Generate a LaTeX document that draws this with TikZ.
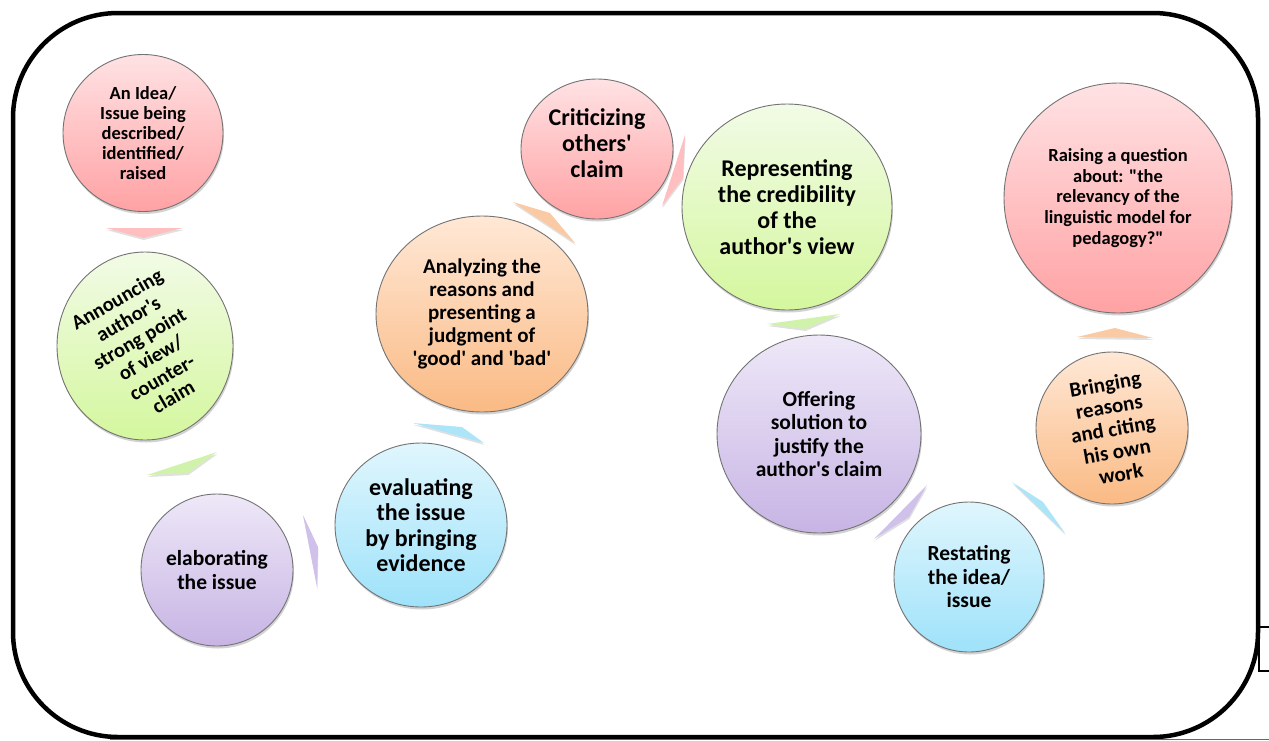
\documentclass[tikz,border=0pt]{standalone}
\usepackage{fontspec}
\setmainfont{Carlito}[Ligatures=TeXOff, BoldFont={Carlito Bold}]
\usetikzlibrary{shapes.geometric,shadows}
\definecolor{redT}{RGB}{255,226,228}
\definecolor{redB}{RGB}{255,162,164}
\definecolor{grnT}{RGB}{242,251,230}
\definecolor{grnB}{RGB}{212,247,158}
\definecolor{purT}{RGB}{238,232,248}
\definecolor{purB}{RGB}{199,180,228}
\definecolor{bluT}{RGB}{224,246,253}
\definecolor{bluB}{RGB}{158,226,250}
\definecolor{orgT}{RGB}{255,232,214}
\definecolor{orgB}{RGB}{250,186,132}
\definecolor{redC}{RGB}{255,190,192}
\definecolor{grnC}{RGB}{208,242,170}
\definecolor{purC}{RGB}{208,193,234}
\definecolor{bluC}{RGB}{172,228,248}
\definecolor{orgC}{RGB}{250,202,164}
\tikzset{
  bub/.style={ellipse, draw=black!55, line width=0.9pt, inner sep=0pt,
    drop shadow={shadow xshift=1pt, shadow yshift=-2.5pt, opacity=0.25, fill=black!70}},
  redb/.style={bub, top color=redT, bottom color=redB},
  grnb/.style={bub, top color=grnT, bottom color=grnB},
  purb/.style={bub, top color=purT, bottom color=purB},
  blub/.style={bub, top color=bluT, bottom color=bluB},
  orgb/.style={bub, top color=orgT, bottom color=orgB},
  lbl/.style={align=center, inner sep=0pt, text=black},
  conn/.style={draw=none, drop shadow={shadow xshift=0.5pt, shadow yshift=-2pt, opacity=0.2, fill=black!60}},
}
\newcommand{\fs}[2]{\bfseries\fontsize{#1}{#2}\selectfont}
\begin{document}
\begin{tikzpicture}[x=1pt,y=-1pt]
\useasboundingbox (0,0) rectangle (1269,740);
% frame
\draw[line width=4.5pt, rounded corners=105pt] (13,13) rectangle (1258,737);
\draw[black!60, line width=0.8pt] (110,739.4) -- (1269,739.4);
\draw[line width=1.4pt] (1269,627) -- (1259,627) -- (1259,671) -- (1269,671);
% bubbles
\node[redb, minimum width=160pt, minimum height=157pt] (b1) at (143,133) {};
\node[grnb, minimum width=176pt, minimum height=188pt] (b2) at (145,346) {};
\node[purb, minimum width=152pt, minimum height=152pt] (b3) at (217,570) {};
\node[blub, minimum width=172pt, minimum height=164pt] (b4) at (421,525) {};
\node[orgb, minimum width=212pt, minimum height=196pt] (b5) at (482,314) {};
\node[redb, minimum width=152pt, minimum height=140pt] (b6) at (597,149) {};
\node[grnb, minimum width=210pt, minimum height=206pt] (b7) at (787,207) {};
\node[purb, minimum width=204pt, minimum height=198pt] (b8) at (819,434) {};
\node[blub, minimum width=150pt, minimum height=150pt] (b9) at (969,577) {};
\node[orgb, minimum width=152pt, minimum height=152pt] (b10) at (1112,428) {};
\node[redb, minimum width=228pt, minimum height=230pt] (b11) at (1118,198) {};
% labels
\node[lbl, font=\fs{18.5}{20}] (t1) at (b1.center) {An Idea/\\Issue being\\described/\\identified/\\raised};
\node[lbl, font=\fs{20.5}{22.5}, rotate=30] (t2) at (145,348) {Announcing\\author's\\strong point\\of view/\\counter-\\claim};
\node[lbl, font=\fs{21.5}{24}] (t3) at (b3.center) {elaborating\\the issue};
\node[lbl, font=\fs{24}{25.5}] (t4) at (b4.center) {evaluating\\the issue\\by bringing\\evidence};
\node[lbl, font=\fs{21}{23}] (t5) at (b5.center) {Analyzing the\\reasons and\\presenting a\\judgment of\\'good' and 'bad'};
\node[lbl, font=\fs{24}{26}] (t6) at (597,143) {Criticizing\\others'\\claim};
\node[lbl, font=\fs{24}{26}] (t7) at (b7.center) {Representing\\the credibility\\of the\\author's view};
\node[lbl, font=\fs{21.5}{23.3}] (t8) at (b8.center) {Offering\\solution to\\justify the\\author's claim};
\node[lbl, font=\fs{21.5}{23.5}] (t9) at (b9.center) {Restating\\the idea/\\issue};
\node[lbl, font=\fs{21}{22.7}, rotate=10] (t10) at (1113,429) {Bringing\\reasons\\and citing\\his own\\work};
\node[lbl, font=\fs{18.5}{20.7}] (t11) at (b11.center) {Raising a question\\about: "the\\relevancy of the\\linguistic model for\\pedagogy?"};
% connectors
\fill[conn, redC] (106,228) -- (183,228) -- (143,238) -- cycle;
\fill[conn, grnC] (217,452) -- (188,473) -- (147,475) -- cycle;
\fill[conn, purC] (303,515) -- (318,547) -- (317,587) -- cycle;
\fill[conn, bluC] (413,423) -- (462,427) -- (484,443) -- cycle;
\fill[conn, orgC] (513,202) -- (550,213) -- (575,243) -- cycle;
\fill[conn, redC] (685,135) -- (683,178) -- (662,206) -- cycle;
\fill[conn, grnC] (767,324) -- (840,314) -- (805,329) -- cycle;
\fill[conn, purC] (927,485) -- (909,517) -- (874,539) -- cycle;
\fill[conn, bluC] (1012,482) -- (1043,502) -- (1065,533) -- cycle;
\fill[conn, orgC] (1077,337) -- (1115,328) -- (1153,338) -- cycle;
\end{tikzpicture}
\end{document}
